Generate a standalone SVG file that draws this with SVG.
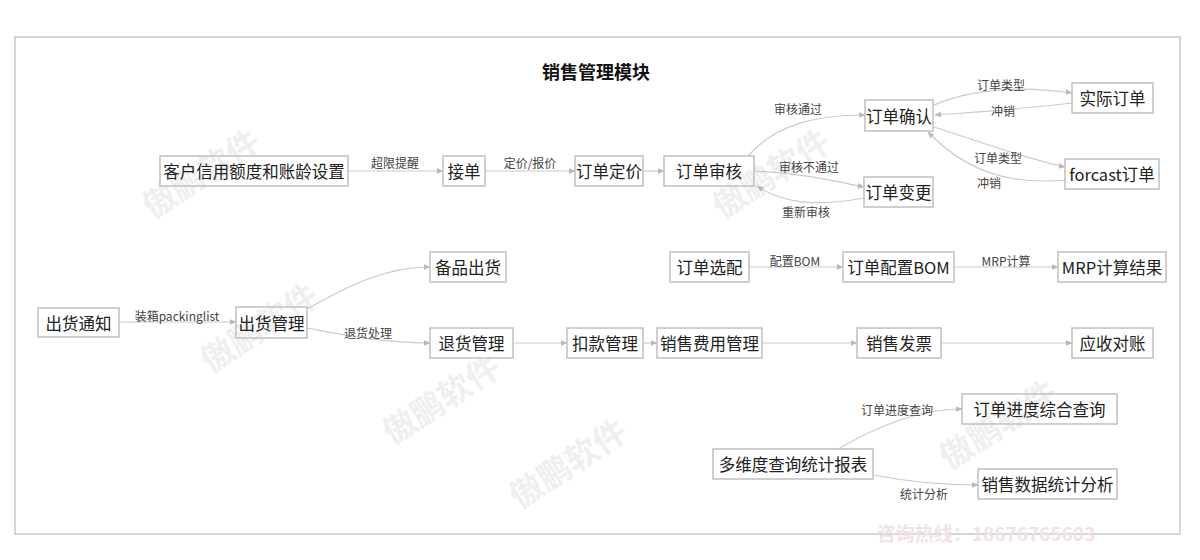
<svg xmlns="http://www.w3.org/2000/svg" width="1200" height="560" viewBox="0 0 1200 560">
<style>
text{font-family:"Noto Sans CJK SC","Liberation Sans",sans-serif}
.box{fill:none;stroke:#c4c4c4;stroke-width:1.6}
.t{font-size:16.5px;fill:#222;text-anchor:middle;dominant-baseline:central}
.lb{font-size:12px;fill:#444;text-anchor:middle;dominant-baseline:central}
.c{fill:none;stroke:#cacaca;stroke-width:1.2;marker-end:url(#ah)}
.wm{font-size:33px;font-weight:bold;fill:#efefef;text-anchor:middle;dominant-baseline:central}
</style>
<defs>
<marker id="ah" viewBox="0 0 10 10" refX="9" refY="5" markerWidth="7" markerHeight="7" markerUnits="userSpaceOnUse" orient="auto">
<path d="M0,1 L10,5 L0,9 Z" fill="#b8b8b8"/>
</marker>
</defs>
<rect width="1200" height="560" fill="#fff"/>
<g id="watermarks">
<text class="wm" transform="translate(200,172) rotate(-33)">傲鹏软件</text>
<text class="wm" transform="translate(258,326) rotate(-33)">傲鹏软件</text>
<text class="wm" transform="translate(440,398) rotate(-33)">傲鹏软件</text>
<text class="wm" transform="translate(567,462) rotate(-33)">傲鹏软件</text>
<text class="wm" transform="translate(770,172) rotate(-33)">傲鹏软件</text>
<text class="wm" transform="translate(997,423) rotate(-33)">傲鹏软件</text>
</g>
<rect x="15" y="37" width="1165" height="497" fill="none" stroke="#c8c8c8" stroke-width="1.5"/>
<text x="596" y="71" font-size="18" font-weight="bold" fill="#111" text-anchor="middle" dominant-baseline="central">销售管理模块</text>
<g id="connectors">
<path class="c" d="M348,171 L443,171"/>
<path class="c" d="M485,171 L575,171"/>
<path class="c" d="M643,171 L664,171"/>
<path class="c" d="M748,156 C775,125 815,115 865,115"/>
<path class="c" d="M754,171 C800,173 830,180 864,187"/>
<path class="c" d="M864,198 C820,206 785,205 757,186"/>
<path class="c" d="M934,105 C965,92 1010,84 1072,93"/>
<path class="c" d="M1072,103 C1030,108 980,112 935,115"/>
<path class="c" d="M934,127 C990,145 1030,160 1065,167"/>
<path class="c" d="M1065,180 C1000,186 960,165 928,132"/>
<path class="c" d="M749,267 L843,267"/>
<path class="c" d="M954,267 L1058,267"/>
<path class="c" d="M119,322 L236,322"/>
<path class="c" d="M307,309 C350,285 385,267 430,267"/>
<path class="c" d="M307,328 C340,334 380,343 430,343"/>
<path class="c" d="M513,343 L567,343"/>
<path class="c" d="M643,343 L657,343"/>
<path class="c" d="M762,343 L857,343"/>
<path class="c" d="M941,343 L1072,343"/>
<path class="c" d="M838,449 C880,425 920,409 962,409"/>
<path class="c" d="M873,475 C910,482 940,485 978,485"/>
<text class="lb" x="395" y="162">超限提醒</text>
<text class="lb" x="530" y="162">定价/报价</text>
<text class="lb" x="798" y="108">审核通过</text>
<text class="lb" x="809" y="166">审核不通过</text>
<text class="lb" x="806" y="211">重新审核</text>
<text class="lb" x="1001" y="84">订单类型</text>
<text class="lb" x="1003" y="110">冲销</text>
<text class="lb" x="998" y="157">订单类型</text>
<text class="lb" x="989" y="182">冲销</text>
<text class="lb" x="795" y="260">配置BOM</text>
<text class="lb" x="1006" y="260">MRP计算</text>
<text class="lb" x="177" y="315">装箱packinglist</text>
<text class="lb" x="368" y="332">退货处理</text>
<text class="lb" x="897" y="409">订单进度查询</text>
<text class="lb" x="924" y="493">统计分析</text>
</g>
<g id="n-credit"><rect class="box" x="160" y="156" width="188" height="30"/><text class="t" x="254" y="171">客户信用额度和账龄设置</text></g>
<g id="n-jiedan"><rect class="box" x="443" y="156" width="42" height="30"/><text class="t" x="464" y="171">接单</text></g>
<g id="n-pricing"><rect class="box" x="575" y="156" width="68" height="30"/><text class="t" x="609" y="171">订单定价</text></g>
<g id="n-review"><rect class="box" x="664" y="156" width="90" height="30"/><text class="t" x="709" y="171">订单审核</text></g>
<g id="n-confirm"><rect class="box" x="865" y="100" width="68" height="31"/><text class="t" x="899" y="115.5">订单确认</text></g>
<g id="n-change"><rect class="box" x="864" y="177" width="69" height="30"/><text class="t" x="898.5" y="192">订单变更</text></g>
<g id="n-actual"><rect class="box" x="1072" y="83" width="81" height="30"/><text class="t" x="1112.5" y="98">实际订单</text></g>
<g id="n-forcast"><rect class="box" x="1065" y="159" width="94" height="30"/><text class="t" x="1112" y="174">forcast订单</text></g>
<g id="n-xuanpei"><rect class="box" x="670" y="252" width="79" height="30"/><text class="t" x="709.5" y="267">订单选配</text></g>
<g id="n-bom"><rect class="box" x="843" y="252" width="111" height="30"/><text class="t" x="898.5" y="267">订单配置BOM</text></g>
<g id="n-mrp"><rect class="box" x="1058" y="252" width="108" height="30"/><text class="t" x="1112" y="267">MRP计算结果</text></g>
<g id="n-notice"><rect class="box" x="38" y="308" width="81" height="29"/><text class="t" x="78.5" y="322.5">出货通知</text></g>
<g id="n-ship"><rect class="box" x="236" y="307" width="71" height="31"/><text class="t" x="271.5" y="322.5">出货管理</text></g>
<g id="n-spare"><rect class="box" x="430" y="252" width="76" height="30"/><text class="t" x="468" y="267">备品出货</text></g>
<g id="n-return"><rect class="box" x="430" y="328" width="83" height="30"/><text class="t" x="471.5" y="343">退货管理</text></g>
<g id="n-deduct"><rect class="box" x="567" y="328" width="76" height="30"/><text class="t" x="605" y="343">扣款管理</text></g>
<g id="n-fee"><rect class="box" x="657" y="328" width="105" height="30"/><text class="t" x="709.5" y="343">销售费用管理</text></g>
<g id="n-invoice"><rect class="box" x="857" y="328" width="84" height="30"/><text class="t" x="899" y="343">销售发票</text></g>
<g id="n-ar"><rect class="box" x="1072" y="328" width="81" height="30"/><text class="t" x="1112.5" y="343">应收对账</text></g>
<g id="n-report"><rect class="box" x="713" y="449" width="160" height="30"/><text class="t" x="793" y="464">多维度查询统计报表</text></g>
<g id="n-progress"><rect class="box" x="962" y="394" width="155" height="30"/><text class="t" x="1039.5" y="409">订单进度综合查询</text></g>
<g id="n-analysis"><rect class="box" x="978" y="469" width="139" height="30"/><text class="t" x="1047.5" y="484">销售数据统计分析</text></g>
<text x="986" y="532" font-size="19" font-weight="bold" fill="#f0e2e5" text-anchor="middle" dominant-baseline="central">咨询热线：18676765603</text>
</svg>
